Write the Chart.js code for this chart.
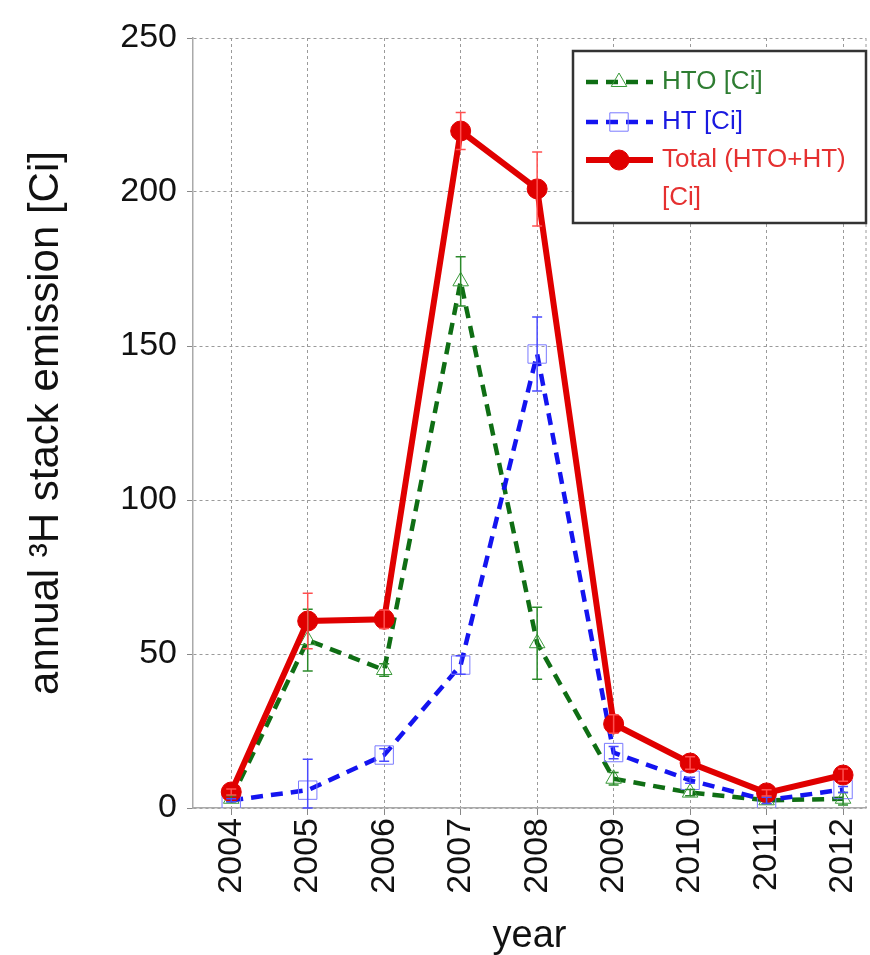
<!DOCTYPE html>
<html>
<head>
<meta charset="utf-8">
<script src="https://cdn.jsdelivr.net/npm/chart.js@4.4.1/dist/chart.umd.min.js"></script>
<style>
  html, body { margin: 0; padding: 0; background: #fff; }
  #wrap { width: 870px; height: 955px; }
</style>
</head>
<body>
<div id="wrap"><canvas id="myChart" width="870" height="955"></canvas></div>
<script>
// data
const years = [2004, 2005, 2006, 2007, 2008, 2009, 2010, 2011, 2012];
const htoValues = [3, 54.5, 44.8, 171, 53.5, 9.5, 5, 2.5, 3];
const htValues = [2.5, 5.8, 17.2, 46.4, 147.4, 18, 9, 2.5, 6];
const totalValues = [5.2, 60.7, 61.3, 219.8, 201, 27.3, 14.6, 4.9, 10.7];
const htoErr = [1, 10, 2, 8, 11.7, 2, 1, 1, 2];
const htErr = [0.5, 10, 2, 3, 12, 2, 1, 1, 1];
const totalErr = [1, 9, 3, 6, 12, 3, 2, 1, 2];
const yTicks = [0, 50, 100, 150, 200, 250];

const labels = ["HTO [Ci]", "HT [Ci]", "Total (HTO+HT)\n[Ci]"];
const green = "#0f6e14";
const blue = "#1414f0";
const red = "#e00000";

const toPoints = (vals) => vals.map((v, i) => ({ x: years[i], y: v }));

const ctx = document.getElementById("myChart").getContext("2d");
Chart.defaults.font.family = "'Liberation Sans', Arial, sans-serif";

// error bars drawn from the err arrays
const errorBars = {
  id: "errorBars",
  afterDatasetsDraw(chart) {
    const c = chart.ctx;
    const yScale = chart.scales.y;
    const errs = [htoErr, htErr, totalErr];
    const cols = ["#2b8a2b", "#4a4aff", "#ff5050"];
    chart.data.datasets.forEach((ds, d) => {
      const meta = chart.getDatasetMeta(d);
      meta.data.forEach((pt, i) => {
        const v = ds.data[i].y;
        const e = errs[d][i];
        const y1 = yScale.getPixelForValue(v + e);
        const y2 = yScale.getPixelForValue(Math.max(v - e, 0));
        c.save();
        c.strokeStyle = cols[d];
        c.lineWidth = 1.5;
        c.beginPath();
        c.moveTo(pt.x, y1); c.lineTo(pt.x, y2);
        c.moveTo(pt.x - 5, y1); c.lineTo(pt.x + 5, y1);
        c.moveTo(pt.x - 5, y2); c.lineTo(pt.x + 5, y2);
        c.stroke();
        c.restore();
      });
    });
  },
};

// frame on the right + legend box
const frameAndLegend = {
  id: "frameAndLegend",
  afterDraw(chart) {
    const c = chart.ctx;
    const a = chart.chartArea;
    c.save();
    c.strokeStyle = "#9a9a9a";
    c.lineWidth = 1;
    c.setLineDash([3, 3]);
    c.beginPath();
    c.moveTo(a.right, a.top); c.lineTo(a.right, a.bottom);
    c.stroke();
    c.setLineDash([]);

    // legend
    const bx = 573, by = 51, bw = 293, bh = 172;
    c.fillStyle = "#fff";
    c.fillRect(bx, by, bw, bh);
    c.strokeStyle = "#333";
    c.lineWidth = 2.5;
    c.strokeRect(bx, by, bw, bh);

    const rows = [82, 122, 160];
    c.font = "26px 'Liberation Sans', Arial, sans-serif";
    c.textBaseline = "middle";
    chart.data.datasets.forEach((ds, d) => {
      const y = rows[d];
      c.strokeStyle = ds.borderColor;
      c.lineWidth = ds.borderWidth;
      c.setLineDash(ds.borderDash || []);
      c.beginPath();
      c.moveTo(586, y); c.lineTo(653, y);
      c.stroke();
      c.setLineDash([]);
      c.fillStyle = ds.pointBackgroundColor;
      c.strokeStyle = ds.pointBorderColor;
      c.lineWidth = ds.pointBorderWidth;
      Chart.helpers.drawPoint(c, { pointStyle: ds.pointStyle, radius: ds.pointRadius, borderWidth: ds.pointBorderWidth }, 619, y);
      c.fillStyle = ds.legendText;
      ds.label.split("\n").forEach((t, k) => c.fillText(t, 662, y + k * 38));
    });
    c.restore();
  },
};

new Chart(ctx, {
  type: "line",
  data: {
    datasets: [
      {
        label: labels[0],
        data: toPoints(htoValues),
        borderColor: green,
        borderWidth: 4.5,
        borderDash: [12, 8],
        pointStyle: "triangle",
        pointRadius: 9,
        pointBorderColor: "#3a9a3a",
        pointBackgroundColor: "rgba(0,0,0,0)",
        pointBorderWidth: 1,
        legendText: "#2e7d32",
        order: 2,
      },
      {
        label: labels[1],
        data: toPoints(htValues),
        borderColor: blue,
        borderWidth: 4.5,
        borderDash: [12, 8],
        pointStyle: "rect",
        pointRadius: 13,
        pointBorderColor: "#7a7aff",
        pointBackgroundColor: "rgba(0,0,0,0)",
        pointBorderWidth: 1,
        legendText: "#1a1ae0",
        order: 1,
      },
      {
        label: labels[2],
        data: toPoints(totalValues),
        borderColor: red,
        borderWidth: 6,
        pointStyle: "circle",
        pointRadius: 10,
        pointBorderColor: red,
        pointBackgroundColor: red,
        pointBorderWidth: 1,
        legendText: "#e53030",
        order: 0,
      },
    ],
  },
  options: {
    responsive: false,
    animation: false,
    events: [],
    layout: { autoPadding: false, padding: { top: 38, right: 4, left: 0, bottom: 0 } },
    plugins: { legend: { display: false }, tooltip: { enabled: false } },
    scales: {
      x: {
        type: "linear",
        min: 2003.5,
        max: 2012.3,
        afterBuildTicks: (axis) => { axis.ticks = years.map((v) => ({ value: v })); },
        afterFit: (scale) => { scale.height = 147; scale.paddingLeft = 0; scale.paddingRight = 0; },
        ticks: {
          minRotation: 90,
          maxRotation: 90,
          autoSkip: false,
          padding: 3,
          color: "#111",
          font: { size: 34 },
          callback: (v) => String(v),
        },
        grid: {
          color: "#9a9a9a",
          tickBorderDash: [],
          tickColor: "#888",
          tickLength: 7,
          lineWidth: 1,
        },
        border: { display: true, color: "#aaa", width: 1.5, dash: [3, 3] },
        title: {
          display: true,
          text: "year",
          color: "#111",
          font: { size: 38 },
          padding: { top: 0, bottom: -4 },
        },
      },
      y: {
        min: 0,
        max: 250,
        afterBuildTicks: (axis) => { axis.ticks = yTicks.map((v) => ({ value: v })); },
        afterFit: (scale) => { scale.width = 193; },
        ticks: { color: "#111", font: { size: 34 }, padding: 10 },
        grid: {
          color: "#9a9a9a",
          tickBorderDash: [],
          tickColor: "#888",
          tickLength: 6,
          lineWidth: 1,
        },
        border: { display: true, color: "#aaa", width: 1.5, dash: [3, 3] },
        title: {
          display: true,
          text: "annual \u00b3H stack emission [Ci]",
          color: "#111",
          font: { size: 42 },
          padding: { top: 21, bottom: 0 },
        },
      },
    },
  },
  plugins: [errorBars, frameAndLegend],
});
</script>
</body>
</html>
